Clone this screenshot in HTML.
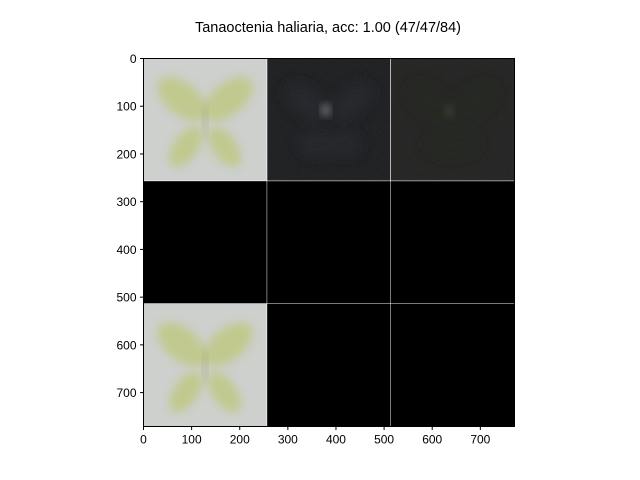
<!DOCTYPE html>
<html><head><meta charset="utf-8"><style>
body{margin:0;background:#fff;}
svg{display:block;font-family:"Liberation Sans","DejaVu Sans",sans-serif;}
</style></head><body>
<svg id="chart" width="640" height="480" viewBox="0 0 640 480">
<defs>
<clipPath id="cell"><rect x="0" y="0" width="256" height="256"/></clipPath>
<filter id="blur" x="-30%" y="-30%" width="160%" height="160%"><feGaussianBlur stdDeviation="9"/></filter>
<filter id="blur2" x="-30%" y="-30%" width="160%" height="160%"><feGaussianBlur stdDeviation="14"/></filter>
<filter id="noise" x="0" y="0" width="100%" height="100%"><feTurbulence type="fractalNoise" baseFrequency="0.9" numOctaves="2"/><feColorMatrix type="matrix" values="0 0 0 0 0.3  0 0 0 0 0.3  0 0 0 0 0.32  0 0 0 0.6 0"/></filter>
<g id="bfly">
<g clip-path="url(#cell)">
<rect x="0" y="0" width="256" height="256" fill="#cdd0cc"/>
<g filter="url(#blur)" fill="#bfc884" opacity="0.85">
<ellipse cx="80" cy="85" rx="60" ry="33" transform="rotate(40 80 85)"/>
<ellipse cx="176" cy="85" rx="60" ry="33" transform="rotate(-40 176 85)"/>
<ellipse cx="88" cy="185" rx="48" ry="25" transform="rotate(-55 88 185)"/>
<ellipse cx="168" cy="185" rx="48" ry="25" transform="rotate(55 168 185)"/>
</g>
<ellipse cx="128" cy="130" rx="5" ry="35" fill="#a5a67c" filter="url(#blur)" opacity="0.6"/>
</g>
</g>
<g id="dark1">
<g clip-path="url(#cell)">
<rect width="256" height="256" fill="#101214"/>
<rect width="256" height="256" filter="url(#noise)" opacity="0.45"/>
<g filter="url(#blur2)" fill="#2a2c33" opacity="0.8">
<ellipse cx="80" cy="90" rx="50" ry="28" transform="rotate(40 80 90)"/>
<ellipse cx="176" cy="90" rx="50" ry="28" transform="rotate(-40 176 90)"/>
<ellipse cx="100" cy="180" rx="35" ry="25"/>
<ellipse cx="160" cy="180" rx="35" ry="25"/>
</g>
<ellipse cx="122" cy="108" rx="9" ry="12" fill="#7d7d82" filter="url(#blur)"/>
</g>
</g>
<g id="dark2">
<g clip-path="url(#cell)">
<rect width="256" height="256" fill="#1b1c1a"/>
<rect width="256" height="256" filter="url(#noise)" opacity="0.35"/>
<g filter="url(#blur2)" fill="#272923" opacity="0.8">
<ellipse cx="80" cy="90" rx="50" ry="28" transform="rotate(40 80 90)"/>
<ellipse cx="176" cy="90" rx="50" ry="28" transform="rotate(-40 176 90)"/>
<ellipse cx="128" cy="180" rx="55" ry="28"/>
</g>
<ellipse cx="122" cy="110" rx="9" ry="12" fill="#3f4232" filter="url(#blur)"/>
</g>
</g>
</defs>
<text x="328" y="32" text-anchor="middle" font-size="14.5" fill="#000">Tanaoctenia haliaria, acc: 1.00 (47/47/84)</text>
<g id="plot"></g>
<g id="axes"></g>
</svg>
<script>
const xTicks=[0,100,200,300,400,500,600,700];
const yTicks=[0,100,200,300,400,500,600,700];
const extent=771;
const cells=[["bfly","dark1","dark2"],["black","black","black"],["bfly","black","black"]];
const cellSize=257;
const NS="http://www.w3.org/2000/svg";
const X0=143.5,Y0=58.5,W=371,H=368;
const sx=v=>X0+v/extent*W, sy=v=>Y0+v/extent*H;
const plot=document.getElementById('plot'),axes=document.getElementById('axes');
function mk(tag,attrs,parent){const e=document.createElementNS(NS,tag);for(const k in attrs)e.setAttribute(k,attrs[k]);parent.appendChild(e);return e;}
mk('rect',{x:X0,y:Y0,width:W,height:H,fill:'#fff'},plot);
cells.forEach((row,r)=>row.forEach((c,ci)=>{
  const x=sx(ci*cellSize),y=sy(r*cellSize),w=sx(ci*cellSize+256)-x,h=sy(r*cellSize+256)-y;
  let el;
  if(c==='black'){el=mk('rect',{x:x,y:y,width:w,height:h,fill:'#000'},plot);}
  else{el=mk('use',{href:'#'+c,transform:`translate(${x},${y}) scale(${w/256},${h/256})`},plot);}
  
  
}));
const frame=mk('rect',{x:X0,y:Y0,width:W,height:H,fill:'none',stroke:'#000','stroke-width':1},axes);


xTicks.forEach(t=>{
  const x=sx(t);
  mk('line',{x1:x,x2:x,y1:Y0+H,y2:Y0+H+3.5,stroke:'#000'},axes);
  const tx=mk('text',{x:x,y:Y0+H+17,'text-anchor':'middle','font-size':12},axes);
  tx.textContent=t;
  
  
});
yTicks.forEach(t=>{
  const y=sy(t);
  mk('line',{x1:X0-3.5,x2:X0,y1:y,y2:y,stroke:'#000'},axes);
  const ty=mk('text',{x:X0-7,y:y+4.5,'text-anchor':'end','font-size':12},axes);
  ty.textContent=t;
  
  
});
</script>
</body></html>
